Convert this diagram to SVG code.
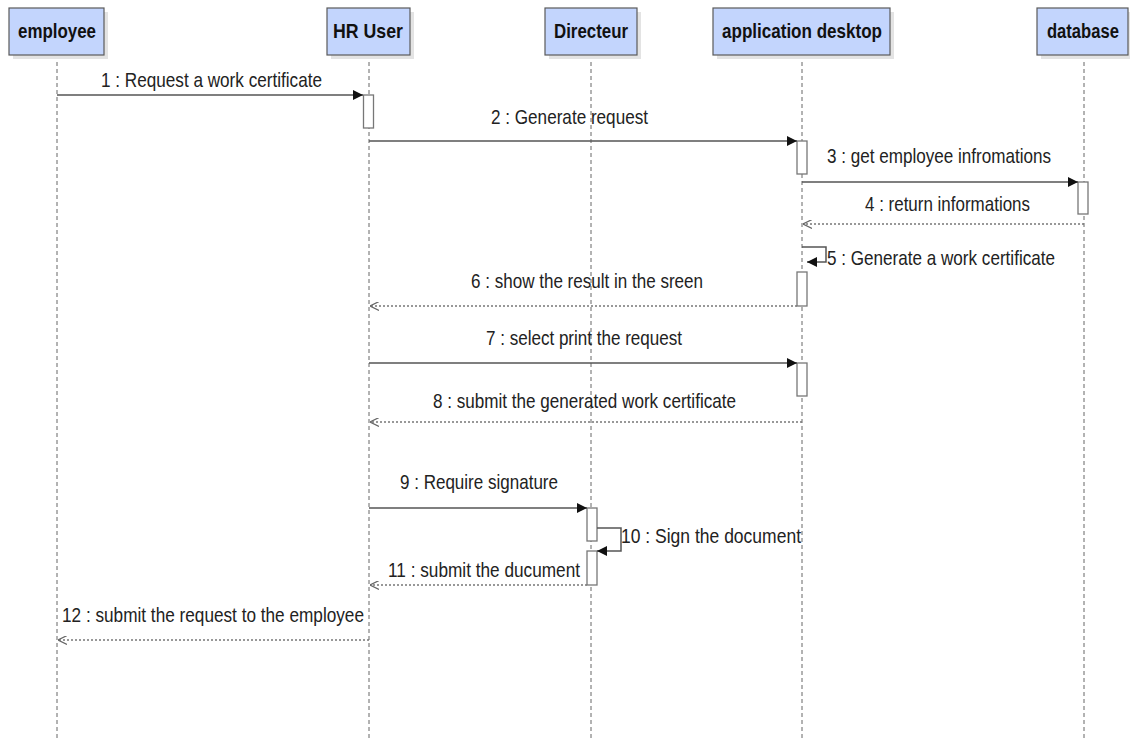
<svg xmlns="http://www.w3.org/2000/svg" width="1130" height="740" viewBox="0 0 1130 740">
<style>
.bg{fill:#ffffff}
.shadow{fill:#e3e3e3}
.head{fill:#c3d5fd;stroke:#5a5a5a;stroke-width:1.2}
.htxt{font-family:"Liberation Sans Narrow","Liberation Sans",Arial,sans-serif;font-size:21px;font-weight:bold;fill:#111}
.life{stroke:#666;stroke-width:1;stroke-dasharray:4,3;fill:none}
.act{fill:#ffffff;stroke:#777;stroke-width:1.3}
.msg{stroke:#555;stroke-width:1.5;fill:none}
.ret{stroke:#777;stroke-width:1.3;stroke-dasharray:2,2;fill:none}
.lbl{font-family:"Liberation Sans Narrow","Liberation Sans",Arial,sans-serif;font-size:21px;fill:#222}
</style>
<defs>
<marker id="solid" viewBox="0 0 10 10" refX="10" refY="5" markerWidth="10" markerHeight="10" markerUnits="userSpaceOnUse" orient="auto">
<path d="M0,0 L10,5 L0,10 z" fill="#111"/>
</marker>
<marker id="open" viewBox="0 0 10 10" refX="10" refY="5" markerWidth="9" markerHeight="9" markerUnits="userSpaceOnUse" orient="auto">
<path d="M0,0 L10,5 L0,10" fill="none" stroke="#666" stroke-width="1.3"/>
</marker>
</defs>
<rect class="bg" x="0" y="0" width="1130" height="740"/>

<g id="lifelines">
<line class="life" x1="57" y1="55" x2="57" y2="740"/>
<line class="life" x1="369" y1="55" x2="369" y2="740"/>
<line class="life" x1="591" y1="55" x2="591" y2="740"/>
<line class="life" x1="802" y1="55" x2="802" y2="740"/>
<line class="life" x1="1084" y1="55" x2="1084" y2="740"/>
</g>

<g id="employee">
<rect class="shadow" x="13" y="12" width="95" height="47"/>
<rect class="head" x="9" y="8" width="95" height="47"/>
<text class="htxt" x="18" y="38" textLength="78" lengthAdjust="spacingAndGlyphs">employee</text>
</g>
<g id="hr_user">
<rect class="shadow" x="331" y="12" width="83" height="47"/>
<rect class="head" x="327" y="8" width="83" height="47"/>
<text class="htxt" x="333" y="38" textLength="70" lengthAdjust="spacingAndGlyphs">HR User</text>
</g>
<g id="directeur">
<rect class="shadow" x="549" y="12" width="92" height="47"/>
<rect class="head" x="545" y="8" width="92" height="47"/>
<text class="htxt" x="554" y="38" textLength="74" lengthAdjust="spacingAndGlyphs">Directeur</text>
</g>
<g id="application_desktop">
<rect class="shadow" x="717" y="12" width="177" height="47"/>
<rect class="head" x="713" y="8" width="177" height="47"/>
<text class="htxt" x="722" y="38" textLength="160" lengthAdjust="spacingAndGlyphs">application desktop</text>
</g>
<g id="database">
<rect class="shadow" x="1041" y="12" width="89" height="47"/>
<rect class="head" x="1037" y="8" width="91" height="47"/>
<text class="htxt" transform="translate(1047,38) scale(0.79,1)" x="0" y="0">database</text>
</g>

<g id="activations">
<rect class="act" x="363.5" y="95" width="10" height="33"/>
<rect class="act" x="797" y="141" width="10" height="33"/>
<rect class="act" x="1078" y="182" width="10" height="32"/>
<rect class="act" x="797" y="272" width="10" height="34"/>
<rect class="act" x="797" y="363" width="10" height="33"/>
<rect class="act" x="587" y="508" width="10" height="33"/>
<rect class="act" x="587" y="551" width="10" height="34"/>
</g>

<g id="connectors">
<line class="msg" x1="57" y1="95" x2="363" y2="95" marker-end="url(#solid)"/>
<line class="msg" x1="369" y1="141" x2="797" y2="141" marker-end="url(#solid)"/>
<line class="msg" x1="802" y1="182" x2="1078" y2="182" marker-end="url(#solid)"/>
<line class="ret" x1="1084" y1="224" x2="803" y2="224" marker-end="url(#open)"/>
<polyline class="msg" points="802,247 826,247 826,262 807,262" marker-end="url(#solid)"/>
<line class="ret" x1="797" y1="306" x2="370" y2="306" marker-end="url(#open)"/>
<line class="msg" x1="369" y1="363" x2="797" y2="363" marker-end="url(#solid)"/>
<line class="ret" x1="802" y1="422" x2="370" y2="422" marker-end="url(#open)"/>
<line class="msg" x1="369" y1="508" x2="587" y2="508" marker-end="url(#solid)"/>
<polyline class="msg" points="597,528 621,528 621,551 597,551" marker-end="url(#solid)"/>
<line class="ret" x1="587" y1="585" x2="370" y2="585" marker-end="url(#open)"/>
<line class="ret" x1="369" y1="640" x2="58" y2="640" marker-end="url(#open)"/>
</g>

<g id="labels">
<text class="lbl" x="101" y="87" textLength="221" lengthAdjust="spacingAndGlyphs">1 : Request a work certificate</text>
<text class="lbl" x="491" y="124" textLength="157" lengthAdjust="spacingAndGlyphs">2 : Generate request</text>
<text class="lbl" x="827" y="163" textLength="224" lengthAdjust="spacingAndGlyphs">3 : get employee infromations</text>
<text class="lbl" x="865" y="211" textLength="165" lengthAdjust="spacingAndGlyphs">4 : return informations</text>
<text class="lbl" x="827" y="265" textLength="228" lengthAdjust="spacingAndGlyphs">5 : Generate a work certificate</text>
<text class="lbl" x="471" y="288" textLength="232" lengthAdjust="spacingAndGlyphs">6 : show the result in the sreen</text>
<text class="lbl" x="486" y="345" textLength="196" lengthAdjust="spacingAndGlyphs">7 : select print the request</text>
<text class="lbl" x="433" y="408" textLength="303" lengthAdjust="spacingAndGlyphs">8 : submit the generated work certificate</text>
<text class="lbl" x="400" y="489" textLength="158" lengthAdjust="spacingAndGlyphs">9 : Require signature</text>
<text class="lbl" x="621" y="543" textLength="180" lengthAdjust="spacingAndGlyphs">10 : Sign the document</text>
<text class="lbl" x="388" y="577" textLength="192" lengthAdjust="spacingAndGlyphs">11 : submit the ducument</text>
<text class="lbl" x="62" y="622" textLength="302" lengthAdjust="spacingAndGlyphs">12 : submit the request to the employee</text>
</g>
</svg>
